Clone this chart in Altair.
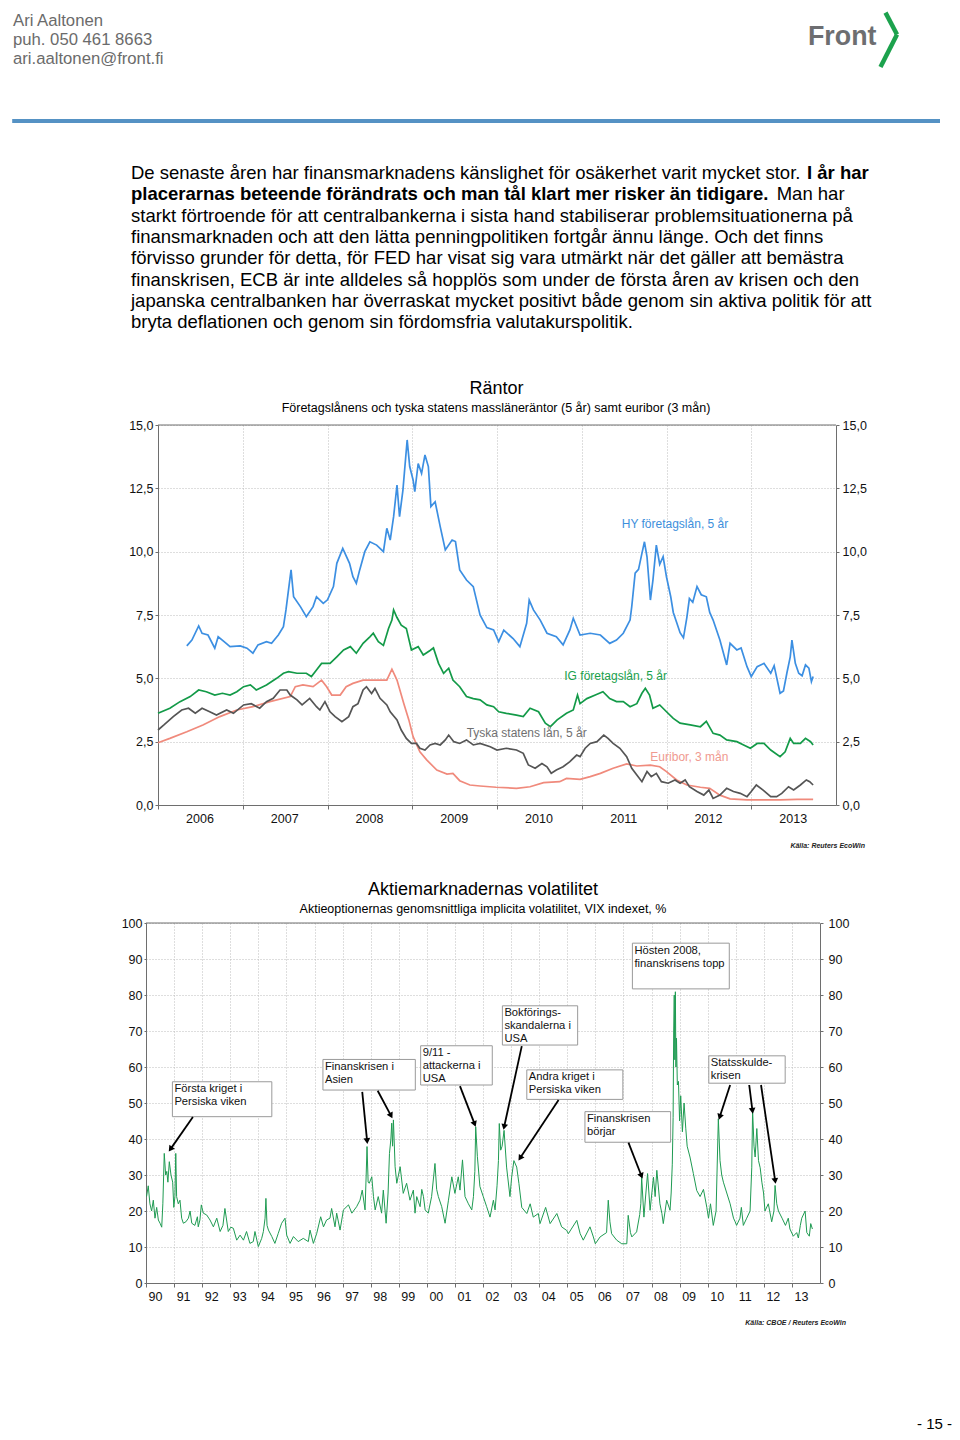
import math
import altair as alt
import pandas as pd

FONT = "Liberation Sans"
INK = "#111111"
AXIS_C = "#6e6e6e"
GRID_C = "#bdbdbd"

# ---------------- page text ----------------
CONTACT_LINES = ["Ari Aaltonen", "puh. 050 461 8663", "ari.aaltonen@front.fi"]
LOGO_TEXT = "Front"
PARAGRAPH = [
    [("De senaste åren har finansmarknadens känslighet för osäkerhet varit mycket stor.", "normal"), ("I år har", "bold")],
    [("placerarnas beteende förändrats och man tål klart mer risker än tidigare.", "bold"), ("Man har", "normal")],
    [("starkt förtroende för att centralbankerna i sista hand stabiliserar problemsituationerna på", "normal")],
    [("finansmarknaden och att den lätta penningpolitiken fortgår ännu länge. Och det finns", "normal")],
    [("förvisso grunder för detta, för FED har visat sig vara utmärkt när det gäller att bemästra", "normal")],
    [("finanskrisen, ECB är inte alldeles så hopplös som under de första åren av krisen och den", "normal")],
    [("japanska centralbanken har överraskat mycket positivt både genom sin aktiva politik för att", "normal")],
    [("bryta deflationen och genom sin fördomsfria valutakurspolitik.", "normal")],
]
PAGE_NO = "- 15 -"

# ---------------- chart 1: Räntor ----------------
RATES_TITLE = "Räntor"
RATES_SUBTITLE = "Företagslånens och tyska statens massläneräntor (5 år) samt euribor (3 mån)"
RATES_SOURCE = "Källa: Reuters EcoWin"
RATES_DOMAIN = [2006, 2014]
RATES_YEARS = [2006, 2007, 2008, 2009, 2010, 2011, 2012, 2013]
RATES_TICKS = [0, 2.5, 5, 7.5, 10, 12.5, 15]
SERIES = ["Euribor, 3 mån", "Tyska statens lån, 5 år", "IG företagslån, 5 år", "HY företagslån, 5 år"]
SERIES_COLORS = ["#f08a7c", "#555555", "#139a48", "#3c8fe2"]
LABEL_COLORS = ["#f09a90", "#707070", "#19a04c", "#3d8fdc"]
LABEL_YR = [2012.27, 2010.35, 2011.40, 2012.10]
LABEL_VAL = [1.89, 2.84, 5.09, 11.09]

HY = [[2006.34,6.28],[2006.40,6.51],[2006.48,7.07],[2006.52,6.78],[2006.59,6.71],[2006.67,6.19],[2006.71,6.64],[2006.78,6.45],[2006.85,6.25],[2006.97,6.28],
      [2007.05,6.19],[2007.12,5.99],[2007.18,6.32],[2007.28,6.45],[2007.34,6.38],[2007.42,6.71],[2007.48,7.04],[2007.51,7.70],[2007.57,9.28],[2007.60,8.22],
      [2007.68,7.83],[2007.75,7.43],[2007.83,7.83],[2007.87,8.22],[2007.95,7.96],[2008.00,8.10],[2008.07,8.62],[2008.11,9.54],[2008.18,10.13],[2008.26,9.54],
      [2008.30,9.01],[2008.34,8.75],[2008.38,9.28],[2008.44,10.00],[2008.50,10.39],[2008.58,10.26],[2008.66,10.00],[2008.70,10.92],[2008.74,10.46],[2008.78,11.38],
      [2008.82,12.63],[2008.85,11.38],[2008.89,12.43],[2008.94,14.41],[2008.97,13.36],[2009.01,12.83],[2009.03,12.37],[2009.07,13.48],[2009.11,13.09],[2009.15,13.82],
      [2009.19,13.36],[2009.22,11.78],[2009.27,11.97],[2009.33,10.99],[2009.39,10.07],[2009.47,10.46],[2009.51,10.40],[2009.56,9.28],[2009.64,8.88],[2009.72,8.62],
      [2009.80,7.50],[2009.88,7.00],[2009.96,6.91],[2010.02,6.45],[2010.08,6.90],[2010.19,6.57],[2010.27,6.25],[2010.35,7.17],[2010.38,8.09],[2010.43,7.70],
      [2010.51,7.30],[2010.59,6.78],[2010.70,6.64],[2010.78,6.32],[2010.86,6.91],[2010.90,7.37],[2010.98,6.71],[2011.10,6.78],[2011.22,6.71],[2011.33,6.38],
      [2011.41,6.51],[2011.49,6.78],[2011.57,7.30],[2011.59,7.83],[2011.63,9.15],[2011.67,9.30],[2011.71,9.93],[2011.74,10.39],[2011.77,9.80],[2011.81,8.09],
      [2011.84,8.88],[2011.88,10.26],[2011.92,9.50],[2011.96,9.80],[2012.00,9.00],[2012.05,8.22],[2012.08,7.60],[2012.12,7.20],[2012.16,6.80],[2012.20,6.60],
      [2012.24,7.40],[2012.27,8.15],[2012.31,8.00],[2012.36,8.62],[2012.41,8.30],[2012.47,8.22],[2012.51,7.60],[2012.55,7.30],[2012.63,6.51],[2012.71,5.53],
      [2012.75,6.38],[2012.83,6.12],[2012.88,6.20],[2012.95,5.46],[2013.00,5.07],[2013.07,5.46],[2013.15,5.59],[2013.23,5.20],[2013.27,5.50],[2013.34,4.41],
      [2013.38,4.50],[2013.42,5.20],[2013.46,5.85],[2013.48,6.51],[2013.52,5.59],[2013.56,5.20],[2013.60,5.10],[2013.64,5.53],[2013.68,5.40],[2013.71,4.87],[2013.73,5.07]]

IG = [[2006.00,3.62],[2006.14,3.82],[2006.26,4.08],[2006.38,4.28],[2006.48,4.54],[2006.57,4.47],[2006.67,4.34],[2006.76,4.41],[2006.85,4.34],[2006.93,4.47],
      [2007.01,4.67],[2007.09,4.74],[2007.16,4.54],[2007.28,4.74],[2007.40,5.00],[2007.48,5.20],[2007.54,5.26],[2007.64,5.20],[2007.75,5.20],[2007.81,5.07],
      [2007.87,5.33],[2007.93,5.59],[2008.03,5.59],[2008.11,5.85],[2008.19,6.12],[2008.27,6.25],[2008.34,5.99],[2008.42,6.38],[2008.50,6.64],[2008.54,6.78],
      [2008.60,6.45],[2008.66,6.30],[2008.72,6.97],[2008.76,7.30],[2008.78,7.70],[2008.82,7.40],[2008.87,7.10],[2008.93,6.97],[2008.99,6.12],[2009.07,6.25],
      [2009.13,5.92],[2009.21,6.10],[2009.25,6.20],[2009.31,5.59],[2009.37,5.20],[2009.43,5.40],[2009.48,4.93],[2009.56,4.67],[2009.64,4.28],[2009.72,4.20],
      [2009.80,4.15],[2009.88,3.95],[2009.96,3.88],[2010.02,3.68],[2010.11,3.62],[2010.23,3.55],[2010.31,3.49],[2010.39,3.82],[2010.49,3.68],[2010.57,3.23],
      [2010.63,3.09],[2010.71,3.36],[2010.82,3.62],[2010.90,3.75],[2010.95,4.34],[2010.98,4.00],[2011.06,4.20],[2011.16,4.34],[2011.25,4.47],[2011.33,4.20],
      [2011.41,4.08],[2011.49,4.08],[2011.57,3.88],[2011.65,4.00],[2011.71,4.41],[2011.75,4.61],[2011.80,4.34],[2011.84,3.82],[2011.92,3.95],[2012.00,3.68],
      [2012.08,3.42],[2012.16,3.23],[2012.28,3.16],[2012.40,3.09],[2012.47,3.30],[2012.55,2.83],[2012.63,2.76],[2012.71,2.57],[2012.83,2.50],[2012.91,2.37],
      [2012.99,2.24],[2013.07,2.43],[2013.15,2.43],[2013.23,2.17],[2013.34,1.91],[2013.40,2.10],[2013.46,2.63],[2013.50,2.43],[2013.58,2.43],[2013.64,2.63],
      [2013.70,2.50],[2013.73,2.37]]

DE = [[2006.00,2.96],[2006.07,3.16],[2006.18,3.49],[2006.28,3.75],[2006.36,3.82],[2006.44,3.62],[2006.52,3.82],[2006.61,3.68],[2006.69,3.55],[2006.81,3.75],
      [2006.89,3.62],[2007.01,3.95],[2007.10,4.00],[2007.20,3.82],[2007.28,4.08],[2007.36,4.21],[2007.44,4.54],[2007.52,4.54],[2007.56,4.34],[2007.64,4.15],
      [2007.70,3.95],[2007.79,4.21],[2007.87,3.88],[2007.91,3.75],[2007.97,4.08],[2008.03,3.68],[2008.09,3.49],[2008.17,3.29],[2008.25,3.49],[2008.30,3.88],
      [2008.36,4.00],[2008.42,4.54],[2008.46,4.67],[2008.52,4.40],[2008.56,4.60],[2008.62,4.21],[2008.70,3.95],[2008.74,3.68],[2008.82,3.36],[2008.87,2.96],
      [2008.93,2.63],[2008.99,2.43],[2009.05,2.43],[2009.09,2.24],[2009.15,2.17],[2009.21,2.37],[2009.27,2.43],[2009.33,2.37],[2009.39,2.57],[2009.43,2.76],
      [2009.49,2.50],[2009.56,2.43],[2009.64,2.57],[2009.72,2.37],[2009.80,2.43],[2009.92,2.30],[2010.00,2.17],[2010.11,2.24],[2010.23,2.17],[2010.31,2.04],
      [2010.37,1.58],[2010.45,1.45],[2010.53,1.64],[2010.59,1.51],[2010.64,1.25],[2010.70,1.38],[2010.78,1.51],[2010.86,1.71],[2010.94,1.97],[2010.98,1.91],
      [2011.04,2.24],[2011.10,2.43],[2011.18,2.50],[2011.26,2.76],[2011.31,2.63],[2011.37,2.43],[2011.45,2.24],[2011.53,1.91],[2011.59,1.45],[2011.65,1.18],
      [2011.71,0.92],[2011.77,1.32],[2011.82,1.12],[2011.88,1.25],[2011.94,0.92],[2012.02,0.86],[2012.10,0.99],[2012.16,0.86],[2012.22,0.99],[2012.27,0.72],
      [2012.36,0.53],[2012.44,0.39],[2012.50,0.59],[2012.55,0.26],[2012.63,0.39],[2012.71,0.66],[2012.79,0.53],[2012.87,0.46],[2012.95,0.33],[2013.00,0.53],
      [2013.06,0.79],[2013.14,0.59],[2013.23,0.33],[2013.30,0.33],[2013.36,0.46],[2013.44,0.72],[2013.50,0.59],[2013.58,0.79],[2013.65,0.99],[2013.69,0.92],[2013.73,0.79]]

EUR = [[2006.00,2.46],[2006.14,2.63],[2006.34,2.89],[2006.53,3.16],[2006.73,3.49],[2006.93,3.75],[2007.12,3.88],[2007.32,4.08],[2007.56,4.28],[2007.62,4.67],
       [2007.71,4.74],[2007.83,4.67],[2007.93,4.93],[2007.99,4.67],[2008.05,4.34],[2008.15,4.34],[2008.22,4.67],[2008.30,4.80],[2008.42,4.93],[2008.54,4.93],
       [2008.70,4.93],[2008.76,5.36],[2008.82,4.93],[2008.90,4.01],[2008.96,3.36],[2009.01,2.70],[2009.09,2.10],[2009.17,1.78],[2009.29,1.38],[2009.41,1.22],
       [2009.48,1.25],[2009.56,0.96],[2009.68,0.79],[2009.80,0.75],[2009.99,0.70],[2010.23,0.66],[2010.39,0.72],[2010.55,0.88],[2010.74,0.92],[2010.82,1.05],
       [2010.98,1.01],[2011.10,1.12],[2011.22,1.25],[2011.37,1.45],[2011.53,1.62],[2011.65,1.54],[2011.81,1.57],[2011.92,1.51],[2012.00,1.32],[2012.12,0.99],
       [2012.24,0.79],[2012.40,0.70],[2012.51,0.66],[2012.63,0.39],[2012.75,0.24],[2012.95,0.20],[2013.15,0.20],[2013.34,0.20],[2013.54,0.22],[2013.73,0.22]]

# ---------------- chart 2: VIX ----------------
VIX_TITLE = "Aktiemarknadernas volatilitet"
VIX_SUBTITLE = "Aktieoptionernas genomsnittliga implicita volatilitet, VIX indexet, %"
VIX_SOURCE = "Källa: CBOE / Reuters EcoWin"
VIX_DOMAIN = [1990, 2014]
VIX_YEARS = list(range(1990, 2014))
VIX_TICKS = [0, 10, 20, 30, 40, 50, 60, 70, 80, 90, 100]

VIX = [[1990.02,24],[1990.08,27],[1990.14,22],[1990.20,20],[1990.26,23],[1990.32,18],[1990.38,21],[1990.44,17.5],[1990.50,16.6],[1990.56,15.5],
       [1990.60,22],[1990.65,36],[1990.70,30],[1990.74,31],[1990.78,28],[1990.83,33.7],[1990.89,30],[1990.95,28],[1990.99,21],
       [1991.03,24],[1991.06,36],[1991.09,24],[1991.15,22],[1991.21,23],[1991.27,18],[1991.33,16.6],[1991.42,17],[1991.51,18],[1991.57,20],
       [1991.63,16.6],[1991.74,16],[1991.83,18.4],[1991.86,15.6],[1991.92,17.5],[1991.97,21.7],
       [1992.04,19.4],[1992.16,18.9],[1992.28,17.5],[1992.40,15.6],[1992.52,18],[1992.64,14.3],[1992.74,16],[1992.81,20.7],[1992.93,14.3],
       [1993.02,15.5],[1993.11,15.2],[1993.23,11.9],[1993.35,13.3],[1993.47,11.9],[1993.58,14.3],[1993.70,11],[1993.82,11.5],[1993.88,14.3],
       [1994.00,10.1],[1994.12,12.4],[1994.18,14.3],[1994.24,18],[1994.27,23.5],[1994.31,16],[1994.36,14.7],[1994.48,12.9],[1994.59,11],
       [1994.71,13.8],[1994.83,16.6],[1994.95,18],
       [1995.01,13.3],[1995.13,11],[1995.25,12.9],[1995.42,11.5],[1995.60,12.4],[1995.78,11.5],[1995.84,14.7],[1995.96,11],
       [1996.08,13.8],[1996.22,18.4],[1996.32,15.6],[1996.43,17.5],[1996.55,18],[1996.61,20.7],[1996.73,15.6],[1996.79,19.4],[1996.91,14.7],
       [1997.03,20.3],[1997.21,21.7],[1997.33,19.4],[1997.50,21.2],[1997.62,23],[1997.70,25.8],[1997.80,20.3],[1997.84,30],[1997.87,37.9],
       [1997.91,28],[1997.95,27.7],
       [1998.04,29.5],[1998.10,24],[1998.16,20.3],[1998.27,24],[1998.39,19.4],[1998.45,25.8],[1998.55,16.6],[1998.62,25],[1998.67,36],
       [1998.72,40],[1998.75,44.4],[1998.78,38],[1998.81,45.3],[1998.87,32.3],[1998.93,27.7],
       [1999.05,32.3],[1999.16,24.9],[1999.28,27.7],[1999.40,23],[1999.52,25.8],[1999.58,19.4],[1999.64,24],[1999.76,21.2],[1999.82,26],
       [1999.88,24],[1999.94,20.3],
       [2000.05,19.4],[2000.17,24],[2000.29,33.2],[2000.35,26],[2000.41,24],[2000.53,21.2],[2000.65,16.6],[2000.77,23],[2000.89,29.5],
       [2001.00,24.9],[2001.12,29.5],[2001.18,25.8],[2001.27,34.2],[2001.36,24],[2001.48,22],[2001.60,20.3],[2001.66,24],[2001.71,31],
       [2001.74,43.4],[2001.80,35.1],[2001.89,26.8],
       [2002.01,24],[2002.13,21.2],[2002.25,18.3],[2002.37,23],[2002.43,20.3],[2002.50,27],[2002.55,34],[2002.58,44.3],[2002.63,36.9],
       [2002.68,38],[2002.75,42.4],[2002.84,32.2],[2002.96,24],
       [2003.02,29.4],[2003.10,34],[2003.20,32.2],[2003.28,27.6],[2003.38,21],[2003.56,19.3],[2003.68,22],[2003.79,18.3],[2003.97,19.3],
       [2004.03,16.5],[2004.23,21],[2004.39,16.5],[2004.63,19.3],[2004.80,15.6],[2004.98,14.6],
       [2005.04,13.7],[2005.34,17.4],[2005.46,13.7],[2005.57,11.9],[2005.81,15.6],[2005.93,12.8],
       [2006.00,10.9],[2006.17,12.8],[2006.40,14],[2006.46,23],[2006.52,17],[2006.58,13.7],[2006.76,11.9],[2006.94,10.9],
       [2007.12,10.9],[2007.17,18.8],[2007.25,14],[2007.30,12.8],[2007.47,14.2],[2007.58,19],[2007.62,22],[2007.65,29.4],[2007.73,18.3],
       [2007.80,25],[2007.86,30.4],[2007.95,20.2],
       [2008.07,29.4],[2008.13,24],[2008.19,31.3],[2008.30,22],[2008.37,19.3],[2008.42,16.5],[2008.54,23],[2008.66,20.2],[2008.70,25],
       [2008.74,33],[2008.77,46],[2008.79,70],[2008.81,80],[2008.83,62],[2008.85,80.9],[2008.87,60],[2008.89,68],[2008.92,55],[2008.96,56],
       [2009.00,45],[2009.04,52],[2009.10,42],[2009.16,50],[2009.22,43],[2009.27,38],[2009.37,35],[2009.49,30.4],[2009.61,25.7],
       [2009.73,24],[2009.85,26],[2009.97,21],
       [2010.03,18],[2010.10,22],[2010.20,16],[2010.30,20],[2010.38,45.6],[2010.44,34],[2010.50,30],[2010.56,28],[2010.68,25],
       [2010.80,22],[2010.92,18],[2010.98,17],
       [2011.03,16],[2011.15,18],[2011.20,21],[2011.27,16],[2011.39,18],[2011.51,20],[2011.57,32],[2011.60,48],[2011.65,38],
       [2011.69,35],[2011.75,42.9],[2011.81,34],[2011.87,32],[2011.93,28],[2011.99,25],
       [2012.04,20],[2012.16,22],[2012.28,17],[2012.36,20],[2012.40,27.1],[2012.46,22],[2012.52,20],[2012.65,18],[2012.77,16],
       [2012.87,18],[2012.93,15],
       [2013.05,13],[2013.17,14],[2013.23,12.5],[2013.30,16],[2013.35,18],[2013.47,20],[2013.53,14],[2013.62,13],[2013.67,16.5],[2013.73,15]]

BOX_TEXT = ["Första kriget i\nPersiska viken", "Finanskrisen i\nAsien", "9/11 -\nattackerna i\nUSA",
            "Bokförings-\nskandalerna i\nUSA", "Andra kriget i\nPersiska viken", "Finanskrisen\nbörjar",
            "Hösten 2008,\nfinanskrisens topp", "Statsskulde-\nkrisen"]
BOX_X1 = [1990.94, 1996.30, 1999.78, 2002.69, 2003.56, 2005.63, 2007.32, 2010.04]
BOX_X2 = [1994.48, 1999.59, 2002.33, 2005.37, 2006.98, 2008.68, 2010.77, 2012.76]
BOX_TOP = [55.9, 62.1, 65.9, 77.0, 59.2, 47.6, 94.4, 63.1]
BOX_BOTTOM = [46.2, 53.6, 55.0, 66.1, 51.0, 39.1, 81.7, 55.5]

ARROW_X_FROM = [1991.67, 1997.70, 1998.25, 2001.18, 2003.38, 2004.69, 2007.18, 2010.80, 2011.48, 2011.90]
ARROW_Y_FROM = [46.1, 53.1, 53.4, 54.7, 65.8, 50.8, 39.0, 55.0, 55.0, 55.0]
ARROW_X_TO = [1990.89, 1997.87, 1998.71, 2001.69, 2002.76, 2003.34, 2007.63, 2010.44, 2011.59, 2012.40]
ARROW_Y_TO = [37.4, 39.7, 46.7, 44.4, 43.6, 34.9, 30.0, 46.4, 48.1, 28.6]

# ---------------- layout sizes (page panels stacked, each full page width) ----------------
PAGE_W = 944
HEADER_H = 417
H1, X1_LEFT, X1_RIGHT = 380, 150, 828
GAP_H = 118
H2, X2_LEFT, X2_RIGHT = 360, 138, 812
FOOTER_H = 149


def px_text(df, size, color, weight="normal", align="left", style="normal"):
    return alt.Chart(df).mark_text(font=FONT, fontSize=size, color=color, fontWeight=weight,
                                   fontStyle=style, align=align, baseline="alphabetic").encode(
        x=alt.X("x:Q", scale=None, axis=None),
        y=alt.Y("y:Q", scale=None, axis=None),
        text="text:N")


def value_text(txt, x, y, size, color=INK, align="center", style="normal", weight="normal", baseline="alphabetic"):
    return alt.Chart(pd.DataFrame({"text": [txt]})).mark_text(
        font=FONT, fontSize=size, color=color, align=align, baseline=baseline,
        fontStyle=style, fontWeight=weight).encode(x=alt.value(x), y=alt.value(y), text="text:N")


def value_rule(x, y, x2, y2, color, width):
    return alt.Chart(pd.DataFrame({"k": [0]})).mark_rule(color=color, strokeWidth=width, strokeCap="butt").encode(
        x=alt.value(x), y=alt.value(y), x2=alt.value(x2), y2=alt.value(y2))


def axis(**kw):
    base = dict(labelFont=FONT, labelFontSize=12.5, labelColor=INK, title=None, tickColor=AXIS_C,
                domainColor=AXIS_C, domainWidth=1, labelFlush=False, labelOverlap=False)
    base.update(kw)
    return alt.Axis(**base)


# ---------------- header ----------------
contact_df = pd.DataFrame({"text": CONTACT_LINES, "x": [5.0] * 3, "y": [17.5 + 19.3 * i for i in range(3)]})
SEG_LEFT = {(0, 1): 799.0, (1, 1): 768.7}
rows = []
for i, line in enumerate(PARAGRAPH):
    for j, (txt, weight) in enumerate(line):
        rows.append({"text": txt, "weight": weight, "x": 123.0 if j == 0 else SEG_LEFT[(i, j)],
                     "y": 171.0 + 21.3 * i})
para_df = pd.DataFrame(rows)
logo_df = pd.DataFrame({"text": [LOGO_TEXT], "x": [800.0], "y": [37.0]})

header = alt.layer(
    px_text(contact_df, 16.7, "#6b6b6b"),
    px_text(logo_df, 26.8, "#6d6e71", weight="bold"),
    value_rule(877.5, 4.6, 889, 26.5, "#1ca24d", 4.5),
    value_rule(889, 26.5, 872.5, 59, "#1ca24d", 4.5),
    value_rule(4.2, 113, 932, 113, "#5592c4", 4),
    px_text(para_df[para_df.weight == "normal"], 18.5, "#000000"),
    px_text(para_df[para_df.weight == "bold"], 18.5, "#000000", weight="bold"),
).properties(width=PAGE_W, height=HEADER_H)

# ---------------- chart 1 ----------------
frames = []
for name, pts in zip(SERIES, [EUR, DE, IG, HY]):
    frames.append(pd.DataFrame({"yr": [p[0] for p in pts], "val": [p[1] for p in pts], "series": name}))
rates_df = pd.concat(frames, ignore_index=True)
labels_df = pd.DataFrame({"yr": LABEL_YR, "val": LABEL_VAL, "text": SERIES, "color": LABEL_COLORS})

X1_SCALE = alt.Scale(domain=RATES_DOMAIN, range=[X1_LEFT, X1_RIGHT], nice=False, zero=False)
Y1_SCALE = alt.Scale(domain=[RATES_TICKS[0], RATES_TICKS[-1]], nice=False, zero=False)
X1_AXIS = axis(values=RATES_YEARS, labelExpr="toString(datum.value)", labelOffset=41.5, tickSize=4,
               labelPadding=3, grid=True, gridColor=GRID_C, gridDash=[1, 2], domain=True)
Y1_FMT = "replace(format(datum.value, '.1f'), '.', ',')"
Y1_LEFT = axis(orient="left", offset=-X1_LEFT, values=RATES_TICKS, labelExpr=Y1_FMT, tickSize=3, labelPadding=2,
               grid=True, gridColor=GRID_C, gridDash=[1, 2], domain=True)
Y1_RIGHT = axis(orient="right", offset=-(PAGE_W - X1_RIGHT), values=RATES_TICKS, labelExpr=Y1_FMT, tickSize=3,
                labelPadding=3, grid=False, domain=True)


def x1(field="yr"):
    return alt.X(f"{field}:Q", scale=X1_SCALE, axis=X1_AXIS)


rates_lines = alt.Chart(rates_df).mark_line(strokeWidth=1.7).encode(
    x=x1(), y=alt.Y("val:Q", scale=Y1_SCALE, axis=Y1_LEFT),
    color=alt.Color("series:N", scale=alt.Scale(domain=SERIES, range=SERIES_COLORS), legend=None),
    order="yr:Q")
rates_right = alt.Chart(pd.DataFrame({"yr": [RATES_DOMAIN[0]] * 2, "val": [RATES_TICKS[0], RATES_TICKS[-1]]})).mark_point(
    opacity=0).encode(x=x1(), y=alt.Y("val:Q", scale=Y1_SCALE, axis=Y1_RIGHT))
rates_top = alt.Chart(pd.DataFrame({"yr": [RATES_DOMAIN[0]], "yr2": [RATES_DOMAIN[1]], "val": [RATES_TICKS[-1]]})).mark_rule(
    color=AXIS_C, strokeWidth=1).encode(x=x1(), x2="yr2:Q", y=alt.Y("val:Q", scale=Y1_SCALE, axis=None))
rates_labels = alt.Chart(labels_df).mark_text(font=FONT, fontSize=12).encode(
    x=x1(), y=alt.Y("val:Q", scale=Y1_SCALE, axis=None), text="text:N",
    color=alt.Color("color:N", scale=None))

rates = alt.layer(
    rates_lines, rates_labels, rates_right, rates_top,
    value_text(RATES_TITLE, X1_LEFT + 338.5, -31.5, 18, color="#000000"),
    value_text(RATES_SUBTITLE, X1_LEFT + 338.0, -13.5, 12.5, color="#000000"),
    value_text(RATES_SOURCE, X1_LEFT + 707.0, H1 + 42.5, 7, align="right", style="italic", weight="bold",
               color="#222222"),
).resolve_scale(y="independent").properties(width=PAGE_W, height=H1)

# ---------------- gap panel ----------------
gap = alt.Chart(pd.DataFrame({"t": [""]})).mark_text().encode(text="t:N").properties(width=PAGE_W, height=GAP_H)

# ---------------- chart 2 ----------------
vix_df = pd.DataFrame({"yr": [p[0] for p in VIX], "val": [p[1] for p in VIX]})
box_df = pd.DataFrame({"x1": BOX_X1, "x2": BOX_X2, "top": BOX_TOP, "bottom": BOX_BOTTOM, "text": BOX_TEXT})
px_yr = (X2_RIGHT - X2_LEFT) / float(VIX_DOMAIN[1] - VIX_DOMAIN[0])
px_val = H2 / 100.0
angles = []
for xs, ys, xe, ye in zip(ARROW_X_FROM, ARROW_Y_FROM, ARROW_X_TO, ARROW_Y_TO):
    dx = (xe - xs) * px_yr
    dy = -(ye - ys) * px_val
    angles.append(math.degrees(math.atan2(dx, -dy)) % 360)
arrow_df = pd.DataFrame({"xs": ARROW_X_FROM, "ys": ARROW_Y_FROM, "xe": ARROW_X_TO, "ye": ARROW_Y_TO, "ang": angles})

X2_SCALE = alt.Scale(domain=VIX_DOMAIN, range=[X2_LEFT, X2_RIGHT], nice=False, zero=False)
Y2_SCALE = alt.Scale(domain=[VIX_TICKS[0], VIX_TICKS[-1]], nice=False, zero=False)
X2_AXIS = axis(values=VIX_YEARS, labelExpr="substring(toString(datum.value), 2, 4)", labelOffset=9, tickSize=4,
               labelPadding=3, grid=True, gridColor=GRID_C, gridDash=[1, 2], domain=True)
Y2_LEFT = axis(orient="left", offset=-X2_LEFT, values=VIX_TICKS, format="d", tickSize=2, labelPadding=2,
               grid=True, gridColor=GRID_C, gridDash=[1, 2], domain=True)
Y2_RIGHT = axis(orient="right", offset=-(PAGE_W - X2_RIGHT), values=VIX_TICKS, format="d", tickSize=3,
                labelPadding=5, grid=False, domain=True)


def x2(field="yr"):
    return alt.X(f"{field}:Q", scale=X2_SCALE, axis=X2_AXIS)


def y2(field="val", ax=None):
    return alt.Y(f"{field}:Q", scale=Y2_SCALE, axis=ax)


vix_line = alt.Chart(vix_df).mark_line(strokeWidth=1.0, color="#1f9b52").encode(
    x=x2(), y=y2(ax=Y2_LEFT), order="yr:Q")
vix_right = alt.Chart(pd.DataFrame({"yr": [VIX_DOMAIN[0]] * 2, "val": [VIX_TICKS[0], VIX_TICKS[-1]]})).mark_point(
    opacity=0).encode(x=x2(), y=y2(ax=Y2_RIGHT))
vix_top = alt.Chart(pd.DataFrame({"yr": [VIX_DOMAIN[0]], "yr2": [VIX_DOMAIN[1]], "val": [VIX_TICKS[-1]]})).mark_rule(
    color=AXIS_C, strokeWidth=1).encode(x=x2(), x2="yr2:Q", y=y2())
boxes = alt.Chart(box_df).mark_rect(fill="white", stroke="#9a9a9a", strokeWidth=1).encode(
    x=x2("x1"), x2="x2:Q", y=y2("top"), y2="bottom:Q")
box_text = alt.Chart(box_df).mark_text(font=FONT, fontSize=11.2, color=INK, align="left", baseline="top",
                                       lineBreak="\n", lineHeight=13, dx=2, dy=1.5).encode(
    x=x2("x1"), y=y2("top"), text="text:N")
arrows = alt.Chart(arrow_df).mark_rule(color="#000000", strokeWidth=1.8).encode(
    x=x2("xs"), y=y2("ys"), x2="xe:Q", y2="ye:Q")
heads = alt.Chart(arrow_df).mark_point(shape="triangle", filled=True, color="#000000", size=45, opacity=1).encode(
    x=x2("xe"), y=y2("ye"), angle=alt.Angle("ang:Q", scale=None))

vix = alt.layer(
    vix_line, boxes, box_text, arrows, heads, vix_right, vix_top,
    value_text(VIX_TITLE, X2_LEFT + 337.0, -28.5, 18, color="#000000"),
    value_text(VIX_SUBTITLE, X2_LEFT + 337.0, -10.5, 12.5, color="#000000"),
    value_text(VIX_SOURCE, X2_LEFT + 700.0, H2 + 41.5, 7, align="right", style="italic", weight="bold",
               color="#222222"),
).resolve_scale(y="independent").properties(width=PAGE_W, height=H2)

# ---------------- footer ----------------
footer = alt.layer(value_text(PAGE_NO, PAGE_W, FOOTER_H, 15, align="right", color="#000000", baseline="bottom")).properties(
    width=PAGE_W, height=FOOTER_H)

chart = alt.vconcat(
    header, rates, gap, vix, footer, spacing=0, bounds="flush",
).properties(padding=0).configure(font=FONT).configure_view(strokeWidth=0)

chart.save("out.html", embed_options={"renderer": "svg", "actions": False})
